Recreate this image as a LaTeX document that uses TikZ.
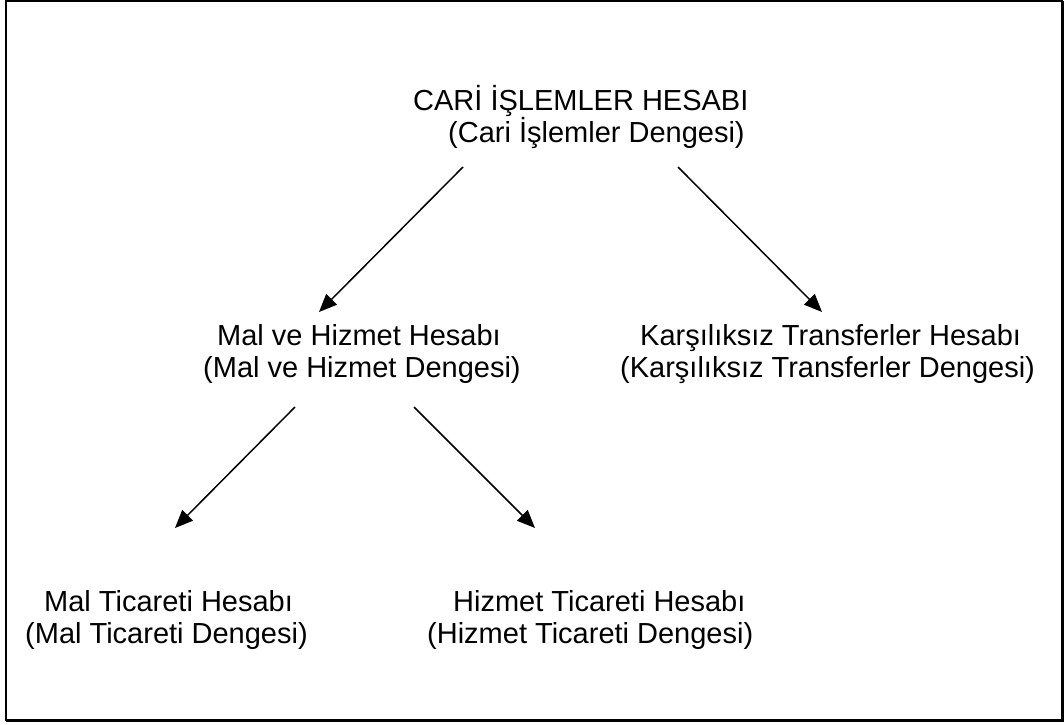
\documentclass[tikz,border=0pt]{standalone}
\usepackage{fontspec}
\setmainfont{Liberation Sans}
\usetikzlibrary{arrows.meta}
\begin{document}
\begin{tikzpicture}[x=1pt,y=-1pt,
		etiket/.style={align=left,inner sep=0pt,anchor=base west,font=\fontsize{29}{32}\selectfont},
		ok/.style={-{Triangle[length=18pt,width=15pt]},line width=1.5pt}]
			\useasboundingbox (0,0) rectangle (1064,724);
			\draw[line width=2pt] (6,1) rectangle (1062,720);
			\draw[line width=1.5pt] (1063.2,1) -- (1063.2,721.2) -- (6,721.2);
			\node[etiket] (cari) at (413,142) {CARİ İŞLEMLER HESABI\\\hspace*{35pt}(Cari İşlemler Dengesi)};
			\node[etiket] (malhiz) at (203,377) {\hspace*{14pt}Mal ve Hizmet Hesabı\\(Mal ve Hizmet Dengesi)};
			\node[etiket] (karsi) at (620,377) {\hspace*{20pt}Karşılıksız Transferler Hesabı\\(Karşılıksız Transferler Dengesi)};
			\node[etiket] (maltic) at (25,643) {\hspace*{19pt}Mal Ticareti Hesabı\\(Mal Ticareti Dengesi)};
			\node[etiket] (hizmtic) at (427,643) {\hspace*{26pt}Hizmet Ticareti Hesabı\\(Hizmet Ticareti Dengesi)};
			% ok uclari
			\coordinate (cari-sol) at (463,167);
			\coordinate (cari-sag) at (678,167);
			\coordinate (malhiz-ust) at (319,312);
			\coordinate (karsi-ust) at (822,312);
			\coordinate (malhiz-sol) at (295,407);
			\coordinate (malhiz-sag) at (414,407);
			\coordinate (maltic-ust) at (175,528);
			\coordinate (hizmtic-ust) at (535,528);
			\draw[ok] (cari-sol) -- (malhiz-ust);
			\draw[ok] (cari-sag) -- (karsi-ust);
			\draw[ok] (malhiz-sol) -- (maltic-ust);
			\draw[ok] (malhiz-sag) -- (hizmtic-ust);
		\end{tikzpicture}
\end{document}
